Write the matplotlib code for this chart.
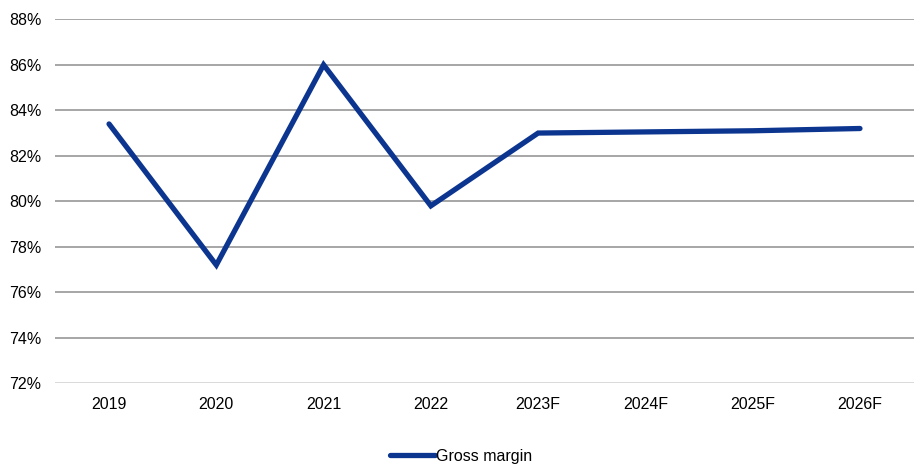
import matplotlib
matplotlib.use("Agg")
import matplotlib.pyplot as plt
from matplotlib.ticker import FuncFormatter, MultipleLocator
from matplotlib.lines import Line2D

plt.rcParams['font.family'] = ['Liberation Sans', 'DejaVu Sans']

years = ["2019", "2020", "2021", "2022", "2023F", "2024F", "2025F", "2026F"]
gross_margin = [83.4, 77.2, 86.0, 79.8, 83.0, 83.05, 83.1, 83.2]

W, H = 922, 466
fig = plt.figure(figsize=(W / 100, H / 100), dpi=100)
ax = fig.add_axes([55.4 / W, (H - 383.3) / H, (913.6 - 55.4) / W, (383.3 - 19.3) / H])

x = list(range(len(years)))
ax.plot(x, gross_margin, color="#0C3590", lw=3.8, solid_capstyle="round",
        solid_joinstyle="miter", zorder=3)

ax.set_xlim(-0.5, len(years) - 0.5)
ax.set_ylim(72, 88)
ax.yaxis.set_major_locator(MultipleLocator(2))
ax.yaxis.set_major_formatter(FuncFormatter(lambda v, p: f"{v:.0f}%"))
ax.set_xticks(x)
ax.set_xticklabels(years)

for v in range(74, 89, 2):
    ax.axhline(v, color="#A6A6A6", lw=1.4, zorder=1)
ax.axhline(72, color="#D9D9D9", lw=1.4, zorder=1)

for s in ax.spines.values():
    s.set_visible(False)
ax.tick_params(axis="both", length=0, labelsize=11.5, colors="#000000")
ax.tick_params(axis="y", pad=10)
ax.tick_params(axis="x", pad=10)

handle = Line2D([0], [0], color="#0C3590", lw=3.8, solid_capstyle="round")
fig.legend([handle], ["Gross margin"], loc="center", bbox_to_anchor=(0.5, (H - 456) / H),
           frameon=False, fontsize=11.5, handlelength=2.8, handletextpad=0.1)

fig.savefig("out.png", dpi=100)
